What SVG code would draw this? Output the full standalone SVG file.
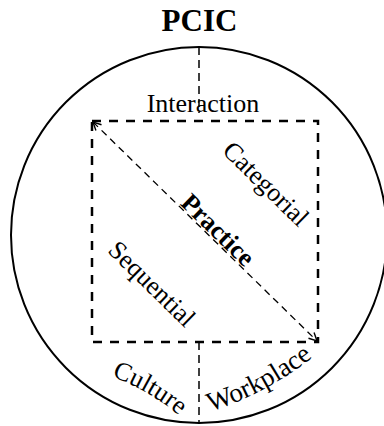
<svg xmlns="http://www.w3.org/2000/svg" width="384" height="426" viewBox="0 0 384 426">
  <style>
    .t { font-family: "Liberation Serif", "Times New Roman", serif; fill: #000; }
    .b { font-weight: bold; }
    .outline { fill: none; stroke: #000; stroke-width: 2; }
    .box { fill: none; stroke: #000; stroke-width: 2.5; stroke-dasharray: 9 8; }
    .div { fill: none; stroke: #000; stroke-width: 1.5; stroke-dasharray: 8 5; }
    .diag { fill: none; stroke: #000; stroke-width: 1.3; stroke-dasharray: 7 5; }
  </style>
  <defs>
    <marker id="arr" viewBox="0 0 10 10" refX="9" refY="5" markerWidth="10" markerHeight="10" markerUnits="userSpaceOnUse" orient="auto-start-reverse">
      <path d="M1,1 L9,5 L1,9" fill="none" stroke="#000" stroke-width="1.4"/>
    </marker>
    <path id="pCulture" d="M 72.3,365.8 A 229 229 0 0 1 207.9,444.2"/>
    <path id="pWork" d="M 126.3,427.1 A 330 330 0 0 0 372.7,296.3"/>
  </defs>

  <g id="title">
    <text class="t b" x="199.5" y="31" font-size="31" text-anchor="middle">PCIC</text>
  </g>

  <g id="circle">
    <circle class="outline" cx="199" cy="235" r="188"/>
  </g>

  <g id="connectors">
    <line class="div" x1="199" y1="47" x2="199" y2="113"/>
    <line class="div" x1="199" y1="342" x2="199" y2="423"/>
    <line class="diag" x1="93" y1="122" x2="317" y2="341" marker-start="url(#arr)" marker-end="url(#arr)"/>
  </g>

  <g id="practice-box">
    <rect class="box" x="92" y="121" width="226" height="221"/>
  </g>

  <g id="interaction">
    <text class="t" x="203" y="112" font-size="26" text-anchor="middle">Interaction</text>
  </g>

  <g id="categorial">
    <text class="t" font-size="26" text-anchor="middle" transform="translate(260,190) rotate(44.4)">Categorial</text>
  </g>

  <g id="practice">
    <text class="t b" font-size="26" text-anchor="middle" transform="translate(212,236) rotate(44.4)">Practice</text>
  </g>

  <g id="sequential">
    <text class="t" font-size="26" text-anchor="middle" transform="translate(146,290) rotate(44.4)">Sequential</text>
  </g>

  <g id="culture">
    <text class="t" font-size="26" text-anchor="middle"><textPath href="#pCulture" startOffset="50%">Culture</textPath></text>
  </g>

  <g id="workplace">
    <text class="t" font-size="27" text-anchor="middle"><textPath href="#pWork" startOffset="50%">Workplace</textPath></text>
  </g>
</svg>
